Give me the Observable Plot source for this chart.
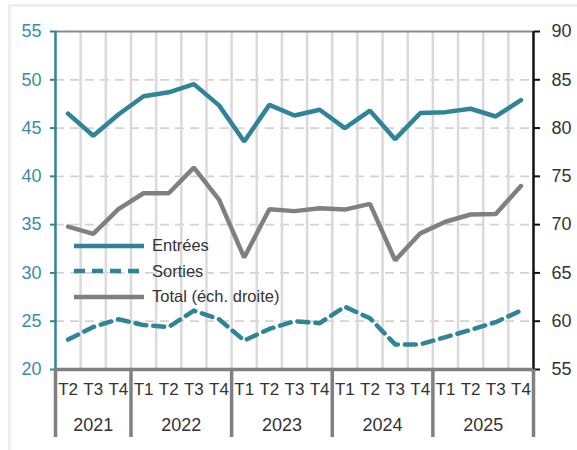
<!DOCTYPE html>
<html>
<head>
<meta charset="utf-8">
<script src="https://cdn.jsdelivr.net/npm/d3@7"></script>
<script src="https://cdn.jsdelivr.net/npm/@observablehq/plot@0.6"></script>
<style>
  html, body { margin: 0; padding: 0; background: #fff; }
  #wrap { position: relative; width: 577px; height: 450px; overflow: hidden; font-family: "Liberation Sans", Arial, sans-serif; }
  #frame { position: absolute; left: 8px; top: 4px; width: 575px; height: 450px; border: 3px solid #efefef; box-sizing: border-box; pointer-events: none; }
  #legend { position: absolute; left: 74px; top: 233px; font-size: 16.5px; color: #333; }
  #legend .row { display: flex; align-items: center; height: 25.5px; }
  #legend svg { margin-right: 8px; }
</style>
</head>
<body>
<div id="wrap">
  <div id="frame"></div>
  <div id="chart"></div>
  <div id="legend"></div>
</div>
<script>
const quarters = ["T2","T3","T4","T1","T2","T3","T4","T1","T2","T3","T4","T1","T2","T3","T4","T1","T2","T3","T4"];
const years = ["2021","2022","2023","2024","2025"];
const entrees = [46.5, 44.2, 46.4, 48.3, 48.7, 49.55, 47.35, 43.6, 47.4, 46.3, 46.9, 45.0, 46.8, 43.85, 46.55, 46.65, 47.0, 46.2, 47.9];
const sorties = [23.1, 24.4, 25.2, 24.6, 24.4, 26.1, 25.2, 23.0, 24.2, 25.0, 24.8, 26.5, 25.3, 22.6, 22.6, 23.35, 24.1, 24.9, 26.1];
const total = [69.8, 69.05, 71.6, 73.25, 73.25, 75.9, 72.6, 66.6, 71.6, 71.4, 71.7, 71.56, 72.15, 66.3, 69.1, 70.3, 71.05, 71.1, 74.0];

const TEAL = "#2f8597";
const GRAY = "#808080";
const OFFSET = 35; // right axis = left axis + 35

const idx = quarters.map((q, i) => i);
const yearOf = [];
let yi = 0;
quarters.forEach((q, i) => { if (i > 0 && q === "T1") yi++; yearOf.push(yi); });
const yearMid = years.map((y, k) => d3.mean(idx.filter(i => yearOf[i] === k)));
const yearBounds = [-0.5, ...idx.filter(i => i > 0 && quarters[i] === "T1").map(i => i - 0.5), quarters.length - 0.5];

const rows = idx.map(i => ({i, entrees: entrees[i], sorties: sorties[i], total: total[i] - OFFSET}));

const chart = Plot.plot({
  width: 577,
  height: 450,
  marginLeft: 55,
  marginRight: 44,
  marginTop: 31,
  marginBottom: 81,
  style: {fontFamily: "Liberation Sans, Arial, sans-serif", background: "transparent", overflow: "visible"},
  x: {domain: [-0.5, quarters.length - 0.5], axis: null, label: null},
  y: {domain: [20, 55], axis: null, label: null},
  marks: [
    Plot.ruleY([25, 30, 35, 40, 45, 50], {stroke: "#dccfcf", strokeWidth: 1.8, strokeDasharray: "9,6"}),
    Plot.ruleX(idx.slice(1).map(i => i - 0.5), {stroke: "#dadada", strokeWidth: 2.5}),
    Plot.ruleY([55], {stroke: "#8a8a8a", strokeWidth: 2}),
    Plot.line(rows, {x: "i", y: "total", stroke: GRAY, strokeWidth: 4.5, strokeLinejoin: "miter"}),
    Plot.line(rows, {x: "i", y: "sorties", stroke: TEAL, strokeWidth: 4.5, strokeDasharray: "11,7"}),
    Plot.line(rows, {x: "i", y: "entrees", stroke: TEAL, strokeWidth: 4.5, strokeLinejoin: "miter"}),
    // left axis
    Plot.ruleX([-0.5], {stroke: TEAL, strokeWidth: 2.5}),
    Plot.axisY({anchor: "left", label: null, ticks: d3.range(20, 56, 5), tickSize: 5, tickPadding: 9, stroke: TEAL, strokeWidth: 2, color: "#3a8e9f", fontSize: 18}),
    // right axis
    Plot.ruleX([quarters.length - 0.5], {stroke: "#111", strokeWidth: 2.5}),
    Plot.axisY({anchor: "right", label: null, ticks: d3.range(20, 56, 5), tickFormat: d => d + OFFSET, tickSize: 6, tickPadding: 12, stroke: "#111", strokeWidth: 2, color: "#333", fontSize: 18}),
    // bottom axis
    Plot.ruleY([20], {stroke: GRAY, strokeWidth: 3.5}),
    Plot.axisX({label: null, ticks: idx, tickFormat: i => quarters[i], tickSize: 0, tickPadding: 13, fontSize: 17, color: "#333"}),
    Plot.axisX({label: null, ticks: yearBounds, tickFormat: () => "", tickSize: 68, stroke: GRAY, strokeWidth: 3.5}),
    Plot.text(years, {x: (d, k) => yearMid[k], y: () => 20, dy: 56, text: d => d, fontSize: 18, fill: "#333", lineAnchor: "middle"})
  ]
});
document.getElementById("chart").appendChild(chart);

const legendItems = [
  {label: "Entrées", color: TEAL, dash: null},
  {label: "Sorties", color: TEAL, dash: "11,7"},
  {label: "Total (éch. droite)", color: GRAY, dash: null}
];
const leg = document.getElementById("legend");
legendItems.forEach(it => {
  const row = document.createElement("div");
  row.className = "row";
  row.innerHTML = `<svg width="70" height="8"><line x1="0" y1="4" x2="70" y2="4" stroke="${it.color}" stroke-width="4.5" ${it.dash ? `stroke-dasharray="${it.dash}"` : ""}/></svg><span>${it.label}</span>`;
  leg.appendChild(row);
});
</script>
</body>
</html>
